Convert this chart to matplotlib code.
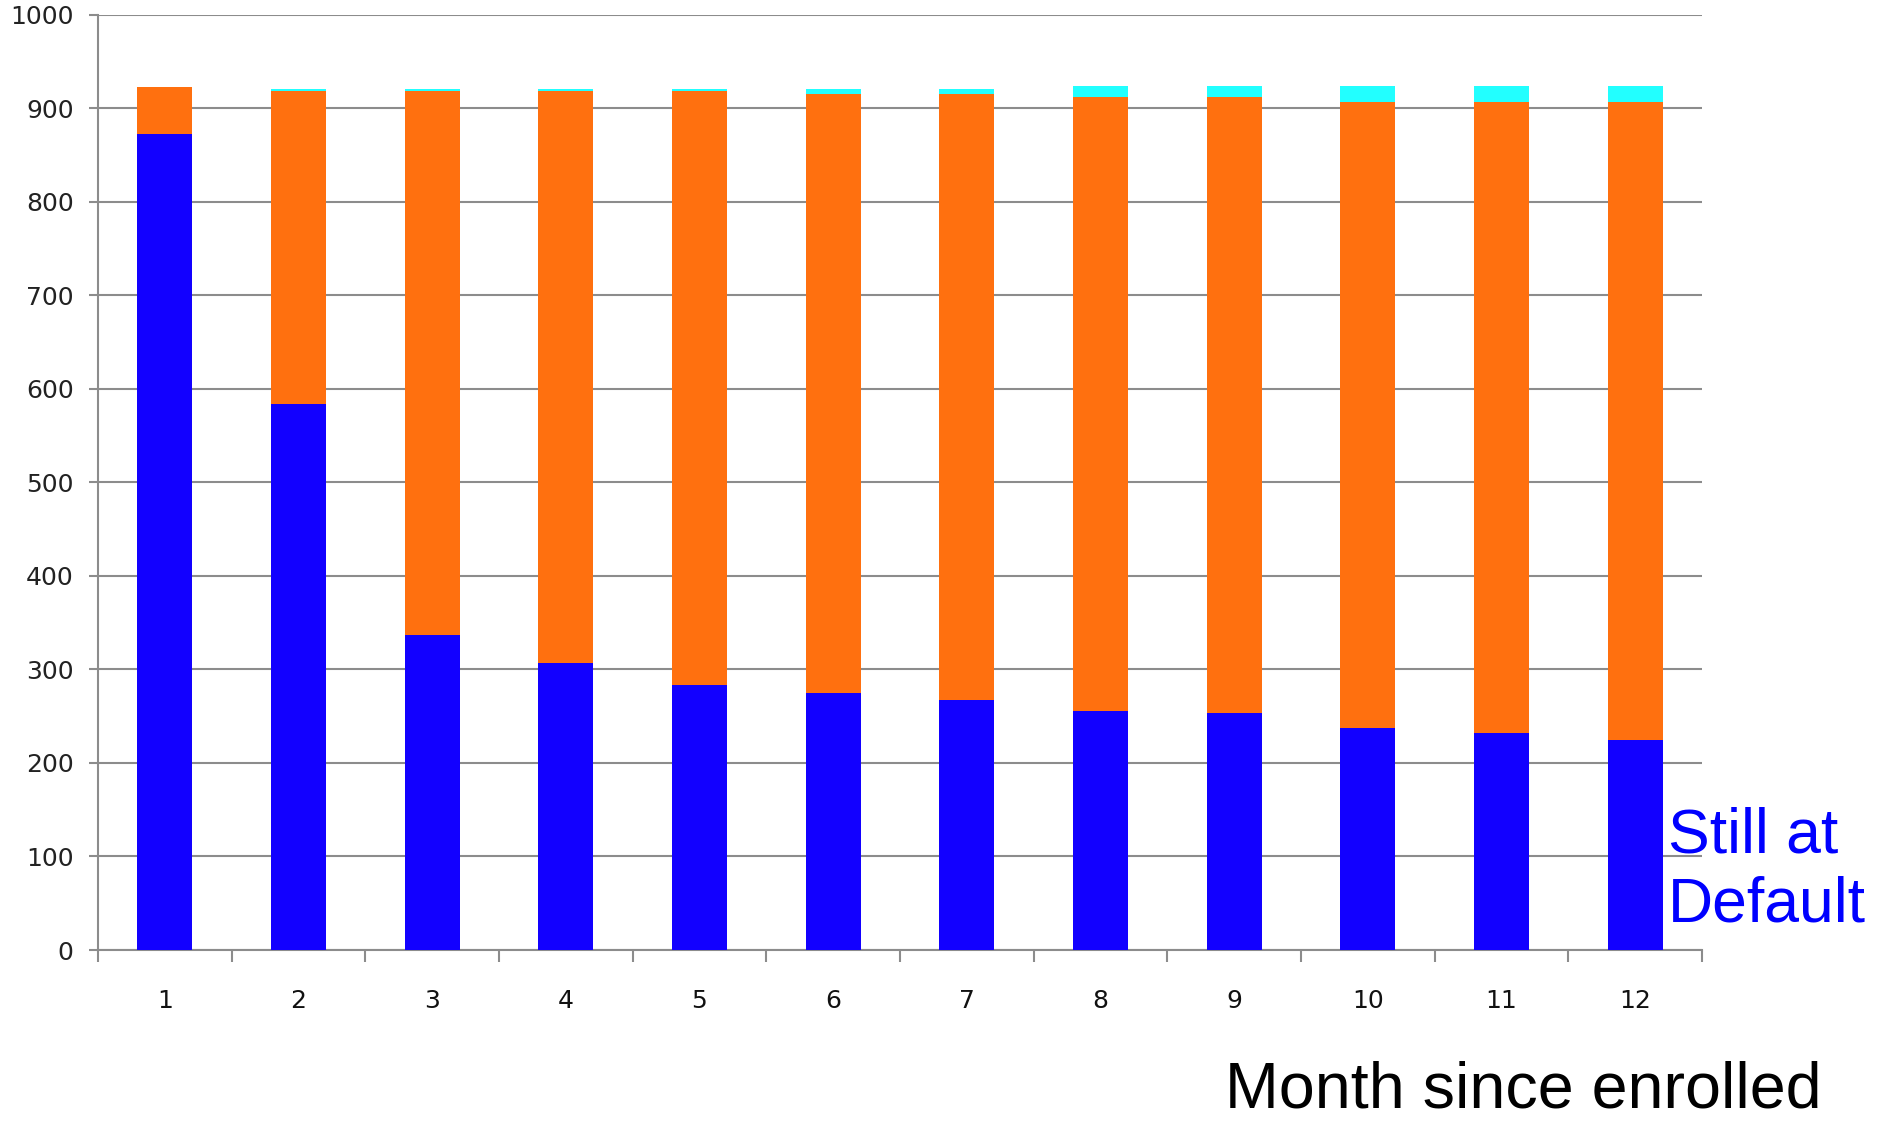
import matplotlib
matplotlib.use("Agg")
import matplotlib.pyplot as plt
from matplotlib.ticker import FixedLocator

# monthly counts by status, read as stacked segment tops
months = list(range(1, 13))
at_default = [872, 584, 337, 307, 283, 275, 267, 256, 253, 237, 232, 224]
changed_top = [923, 918, 918, 918, 918, 915, 915, 912, 912, 907, 907, 907]
other_top = [923, 920.5, 920.5, 920.5, 920.5, 920.5, 920.5, 923.5, 923.5, 923.5, 923.5, 923.5]

changed = [t - b for t, b in zip(changed_top, at_default)]
other = [t - c for t, c in zip(other_top, changed_top)]

W, H = 1895, 1122
fig = plt.figure(figsize=(W / 100, H / 100), dpi=100)
ax = fig.add_axes([98 / W, (H - 950) / H, (1702 - 98) / W, (950 - 14.5) / H])

blue = "#1200ff"
orange = "#ff700f"
cyan = "#22ffff"
grid = "#8c8c8c"

bw = 0.41
ax.bar(months, at_default, width=bw, color=blue, zorder=3)
ax.bar(months, changed, width=bw, bottom=at_default, color=orange, zorder=3)
ax.bar(months, other, width=bw, bottom=changed_top, color=cyan, zorder=3)

ax.set_xlim(0.5, 12.5)
ax.set_ylim(0, 1000)
ax.set_yticks(range(0, 1001, 100))
ax.set_xticks(months)
ax.xaxis.set_minor_locator(FixedLocator([m + 0.5 for m in range(0, 13)]))

ax.yaxis.grid(True, color=grid, linewidth=1.5, zorder=0)
for s in ["top", "right"]:
    ax.spines[s].set_visible(False)
for s in ["left", "bottom"]:
    ax.spines[s].set_color(grid)
    ax.spines[s].set_linewidth(1.5)

ax.tick_params(axis="y", length=6.5, width=1.5, color=grid, pad=11,
               labelsize=18, labelcolor="#222222")
ax.tick_params(axis="x", which="major", length=0, pad=28,
               labelsize=18, labelcolor="#111111")
ax.tick_params(axis="x", which="minor", length=8.6, width=1.5, color=grid)

fig.text(1668 / W, 1 - 922 / H, "Still at\nDefault", color="#0000ff",
         fontsize=45, family="Liberation Sans", ha="left", va="baseline",
         linespacing=1.22)
fig.text(1225 / W, 1 - 1107 / H, "Month since enrolled", color="black",
         fontsize=46.5, family="Liberation Sans", ha="left", va="baseline")

fig.savefig("out.png", dpi=100)
